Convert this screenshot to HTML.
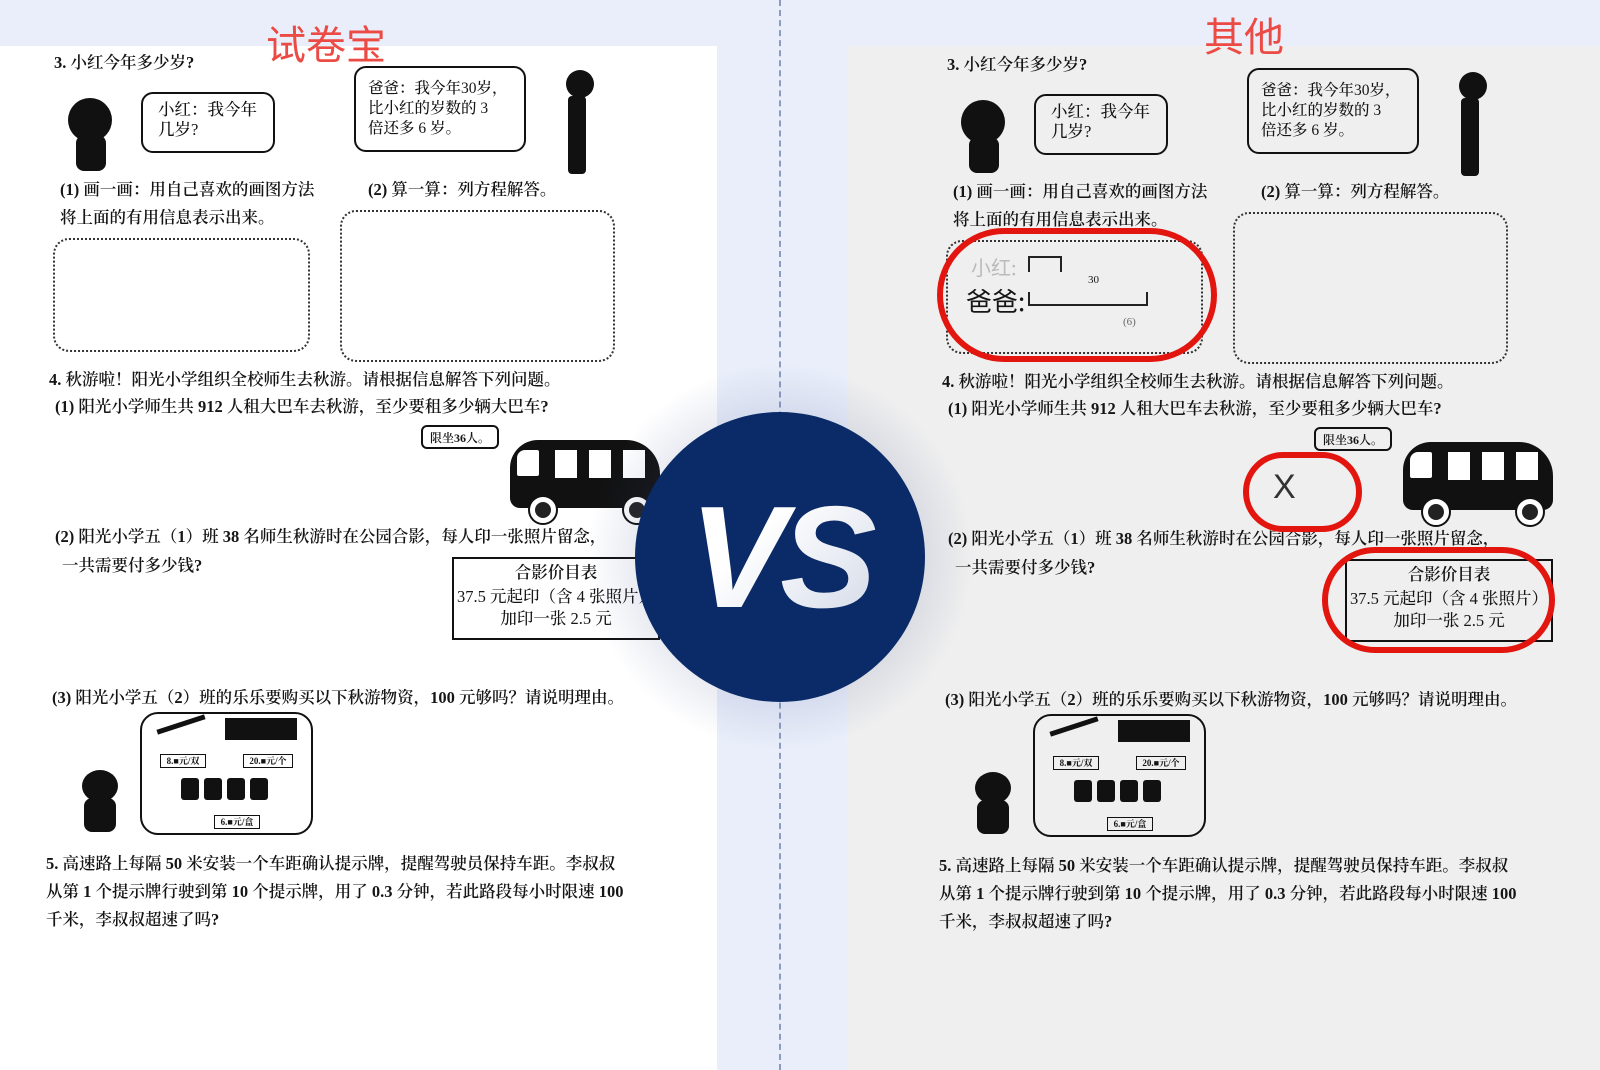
<!DOCTYPE html>
<html><head><meta charset="utf-8">
<style>
*{margin:0;padding:0;box-sizing:border-box}
body{width:1600px;height:1070px;overflow:hidden;background:#e9eefa;position:relative;font-family:"Liberation Serif","Noto Serif CJK SC",serif;color:#151515}
.panel{position:absolute;top:46px;height:1024px}
.blk{position:absolute;left:0;top:0;width:720px;height:1000px}
.t{position:absolute;white-space:nowrap;font-size:16.5px;font-weight:600;line-height:20px}
.bub{position:absolute;border:2px solid #111;border-radius:12px;background:#fff}
.dot{position:absolute;border:2px dotted #333;border-radius:16px}
.sil{position:absolute;background:#111}
.title{position:absolute;color:#ec4a44;font-family:"Liberation Sans","Noto Sans CJK SC",sans-serif;font-size:40px;white-space:nowrap;line-height:42px}
.red{position:absolute;border:6px solid #e3150f;border-radius:9999px}
</style></head><body>
<div class="panel" style="left:0;width:717px;background:#fff"></div>
<div class="panel" style="left:847px;width:753px;background:#efefef"></div>
<div style="position:absolute;left:779px;top:0;height:1070px;border-left:2px dashed #8a9cc0"></div>

<div class="title" style="left:266px;top:25px">试卷宝</div>
<div class="title" style="left:1204px;top:17px">其他</div>

<!-- LEFT block -->
<div class="blk" style="left:0;top:0">
 <div class="t" style="left:54px;top:53px">3. 小红今年多少岁?</div>
 <div class="sil" style="left:68px;top:98px;width:44px;height:44px;border-radius:50%"></div>
 <div class="sil" style="left:76px;top:135px;width:30px;height:36px;border-radius:8px"></div>
 <div class="bub" style="left:141px;top:92px;width:134px;height:61px"></div>
 <div class="t" style="left:158px;top:100px;font-weight:500">小红：我今年<br>几岁?</div>
 <div class="bub" style="left:354px;top:66px;width:172px;height:86px"></div>
 <div class="t" style="left:368px;top:79px;font-weight:500;font-size:15.5px">爸爸：我今年30岁，<br>比小红的岁数的 3<br>倍还多 6 岁。</div>
 <div class="sil" style="left:566px;top:70px;width:28px;height:28px;border-radius:50%"></div>
 <div class="sil" style="left:568px;top:96px;width:18px;height:78px;border-radius:4px"></div>
 <div class="t" style="left:60px;top:180px">(1) 画一画：用自己喜欢的画图方法</div>
 <div class="t" style="left:368px;top:180px">(2) 算一算：列方程解答。</div>
 <div class="t" style="left:60px;top:208px">将上面的有用信息表示出来。</div>
 <div class="dot" style="left:53px;top:238px;width:257px;height:114px"></div>
 <div class="dot" style="left:340px;top:210px;width:275px;height:152px"></div>
 <div class="t" style="left:49px;top:370px">4. 秋游啦！阳光小学组织全校师生去秋游。请根据信息解答下列问题。</div>
 <div class="t" style="left:55px;top:397px">(1) 阳光小学师生共 912 人租大巴车去秋游，至少要租多少辆大巴车?</div>
 <div class="bub" style="left:421px;top:425px;width:78px;height:24px;border-radius:6px"></div>
 <div class="t" style="left:430px;top:428px;font-size:12px">限坐36人。</div>
 <div class="sil" style="left:510px;top:440px;width:150px;height:68px;border-radius:28px 34px 10px 10px"></div>
 <div style="position:absolute;left:517px;top:450px;width:22px;height:26px;background:#fff;border-radius:8px 2px 2px 2px"></div>
 <div style="position:absolute;left:555px;top:450px;width:22px;height:28px;background:#fff"></div>
 <div style="position:absolute;left:589px;top:450px;width:22px;height:28px;background:#fff"></div>
 <div style="position:absolute;left:623px;top:450px;width:22px;height:28px;background:#fff"></div>
 <div style="position:absolute;left:530px;top:497px;width:26px;height:26px;border-radius:50%;background:#222;border:5px solid #fff;box-shadow:0 0 0 2px #111"></div>
 <div style="position:absolute;left:624px;top:497px;width:26px;height:26px;border-radius:50%;background:#222;border:5px solid #fff;box-shadow:0 0 0 2px #111"></div>
 <div class="t" style="left:55px;top:527px">(2) 阳光小学五（1）班 38 名师生秋游时在公园合影，每人印一张照片留念，</div>
 <div class="t" style="left:62px;top:556px">一共需要付多少钱?</div>
 <div style="position:absolute;left:452px;top:557px;width:208px;height:83px;border:2px solid #111;background:#fff"></div>
 <div class="t" style="left:452px;top:563px;width:208px;text-align:center">合影价目表</div>
 <div class="t" style="left:457px;top:587px;font-weight:500">37.5 元起印（含 4 张照片）</div>
 <div class="t" style="left:452px;top:609px;width:208px;text-align:center;font-weight:500">加印一张 2.5 元</div>
 <div class="t" style="left:52px;top:688px">(3) 阳光小学五（2）班的乐乐要购买以下秋游物资，100 元够吗？请说明理由。</div>
 <div class="sil" style="left:82px;top:770px;width:36px;height:32px;border-radius:50%"></div>
 <div class="sil" style="left:84px;top:798px;width:32px;height:34px;border-radius:8px"></div>
 <div class="bub" style="left:140px;top:712px;width:173px;height:123px;border-radius:18px"></div>
 <div style="position:absolute;left:156px;top:722px;width:50px;height:5px;background:#111;transform:rotate(-18deg)"></div>
 <div class="sil" style="left:225px;top:718px;width:72px;height:22px"></div>
 <div style="position:absolute;left:160px;top:754px;width:46px;height:14px;border:1px solid #111;font-size:9px;font-weight:bold;line-height:12px;text-align:center">8.■元/双</div>
 <div style="position:absolute;left:243px;top:754px;width:50px;height:14px;border:1px solid #111;font-size:9px;font-weight:bold;line-height:12px;text-align:center">20.■元/个</div>
 <div class="sil" style="left:181px;top:778px;width:18px;height:22px;border-radius:3px"></div>
 <div class="sil" style="left:204px;top:778px;width:18px;height:22px;border-radius:3px"></div>
 <div class="sil" style="left:227px;top:778px;width:18px;height:22px;border-radius:3px"></div>
 <div class="sil" style="left:250px;top:778px;width:18px;height:22px;border-radius:3px"></div>
 <div style="position:absolute;left:214px;top:815px;width:46px;height:14px;border:1px solid #111;font-size:9px;font-weight:bold;line-height:12px;text-align:center">6.■元/盒</div>
 <div class="t" style="left:46px;top:854px">5. 高速路上每隔 50 米安装一个车距确认提示牌，提醒驾驶员保持车距。李叔叔</div>
 <div class="t" style="left:46px;top:882px">从第 1 个提示牌行驶到第 10 个提示牌，用了 0.3 分钟，若此路段每小时限速 100</div>
 <div class="t" style="left:46px;top:910px">千米，李叔叔超速了吗?</div>
</div>

<!-- RIGHT block -->
<div class="blk" style="left:893px;top:2px">
 <div class="t" style="left:54px;top:53px">3. 小红今年多少岁?</div>
 <div class="sil" style="left:68px;top:98px;width:44px;height:44px;border-radius:50%"></div>
 <div class="sil" style="left:76px;top:135px;width:30px;height:36px;border-radius:8px"></div>
 <div class="bub" style="left:141px;top:92px;width:134px;height:61px;background:#efefef"></div>
 <div class="t" style="left:158px;top:100px;font-weight:500">小红：我今年<br>几岁?</div>
 <div class="bub" style="left:354px;top:66px;width:172px;height:86px;background:#efefef"></div>
 <div class="t" style="left:368px;top:79px;font-weight:500;font-size:15.5px">爸爸：我今年30岁，<br>比小红的岁数的 3<br>倍还多 6 岁。</div>
 <div class="sil" style="left:566px;top:70px;width:28px;height:28px;border-radius:50%"></div>
 <div class="sil" style="left:568px;top:96px;width:18px;height:78px;border-radius:4px"></div>
 <div class="t" style="left:60px;top:180px">(1) 画一画：用自己喜欢的画图方法</div>
 <div class="t" style="left:368px;top:180px">(2) 算一算：列方程解答。</div>
 <div class="t" style="left:60px;top:208px">将上面的有用信息表示出来。</div>
 <div class="dot" style="left:53px;top:238px;width:257px;height:114px"></div>
 <div class="dot" style="left:340px;top:210px;width:275px;height:152px"></div>
 <div style="position:absolute;left:78px;top:250px;font-size:20px;color:#bbb;font-family:'Noto Sans CJK SC',sans-serif">小红:</div>
 <div style="position:absolute;left:135px;top:254px;width:34px;height:16px;border:2px solid #222;border-bottom:none"></div>
 <div style="position:absolute;left:73px;top:280px;font-size:26px;font-family:'Noto Sans CJK SC',sans-serif">爸爸:</div>
 <div style="position:absolute;left:135px;top:290px;width:120px;height:14px;border:2px solid #222;border-top:none"></div>
 <div style="position:absolute;left:195px;top:272px;font-size:11px">30</div>
 <div style="position:absolute;left:230px;top:314px;font-size:11px;color:#666">(6)</div>
 <div class="t" style="left:49px;top:370px">4. 秋游啦！阳光小学组织全校师生去秋游。请根据信息解答下列问题。</div>
 <div class="t" style="left:55px;top:397px">(1) 阳光小学师生共 912 人租大巴车去秋游，至少要租多少辆大巴车?</div>
 <div class="bub" style="left:421px;top:425px;width:78px;height:24px;border-radius:6px;background:#efefef"></div>
 <div class="t" style="left:430px;top:428px;font-size:12px">限坐36人。</div>
 <div style="position:absolute;left:380px;top:466px;font-size:34px;font-family:'Liberation Sans',sans-serif;color:#333">X</div>
 <div class="sil" style="left:510px;top:440px;width:150px;height:68px;border-radius:28px 34px 10px 10px"></div>
 <div style="position:absolute;left:517px;top:450px;width:22px;height:26px;background:#fff;border-radius:8px 2px 2px 2px"></div>
 <div style="position:absolute;left:555px;top:450px;width:22px;height:28px;background:#fff"></div>
 <div style="position:absolute;left:589px;top:450px;width:22px;height:28px;background:#fff"></div>
 <div style="position:absolute;left:623px;top:450px;width:22px;height:28px;background:#fff"></div>
 <div style="position:absolute;left:530px;top:497px;width:26px;height:26px;border-radius:50%;background:#222;border:5px solid #fff;box-shadow:0 0 0 2px #111"></div>
 <div style="position:absolute;left:624px;top:497px;width:26px;height:26px;border-radius:50%;background:#222;border:5px solid #fff;box-shadow:0 0 0 2px #111"></div>
 <div class="t" style="left:55px;top:527px">(2) 阳光小学五（1）班 38 名师生秋游时在公园合影，每人印一张照片留念，</div>
 <div class="t" style="left:62px;top:556px">一共需要付多少钱?</div>
 <div style="position:absolute;left:452px;top:557px;width:208px;height:83px;border:2px solid #111"></div>
 <div class="t" style="left:452px;top:563px;width:208px;text-align:center">合影价目表</div>
 <div class="t" style="left:457px;top:587px;font-weight:500">37.5 元起印（含 4 张照片）</div>
 <div class="t" style="left:452px;top:609px;width:208px;text-align:center;font-weight:500">加印一张 2.5 元</div>
 <div class="t" style="left:52px;top:688px">(3) 阳光小学五（2）班的乐乐要购买以下秋游物资，100 元够吗？请说明理由。</div>
 <div class="sil" style="left:82px;top:770px;width:36px;height:32px;border-radius:50%"></div>
 <div class="sil" style="left:84px;top:798px;width:32px;height:34px;border-radius:8px"></div>
 <div class="bub" style="left:140px;top:712px;width:173px;height:123px;border-radius:18px;background:#efefef"></div>
 <div style="position:absolute;left:156px;top:722px;width:50px;height:5px;background:#111;transform:rotate(-18deg)"></div>
 <div class="sil" style="left:225px;top:718px;width:72px;height:22px"></div>
 <div style="position:absolute;left:160px;top:754px;width:46px;height:14px;border:1px solid #111;font-size:9px;font-weight:bold;line-height:12px;text-align:center">8.■元/双</div>
 <div style="position:absolute;left:243px;top:754px;width:50px;height:14px;border:1px solid #111;font-size:9px;font-weight:bold;line-height:12px;text-align:center">20.■元/个</div>
 <div class="sil" style="left:181px;top:778px;width:18px;height:22px;border-radius:3px"></div>
 <div class="sil" style="left:204px;top:778px;width:18px;height:22px;border-radius:3px"></div>
 <div class="sil" style="left:227px;top:778px;width:18px;height:22px;border-radius:3px"></div>
 <div class="sil" style="left:250px;top:778px;width:18px;height:22px;border-radius:3px"></div>
 <div style="position:absolute;left:214px;top:815px;width:46px;height:14px;border:1px solid #111;font-size:9px;font-weight:bold;line-height:12px;text-align:center">6.■元/盒</div>
 <div class="t" style="left:46px;top:854px">5. 高速路上每隔 50 米安装一个车距确认提示牌，提醒驾驶员保持车距。李叔叔</div>
 <div class="t" style="left:46px;top:882px">从第 1 个提示牌行驶到第 10 个提示牌，用了 0.3 分钟，若此路段每小时限速 100</div>
 <div class="t" style="left:46px;top:910px">千米，李叔叔超速了吗?</div>
</div>

<div class="red" style="left:937px;top:228px;width:280px;height:134px"></div>
<div class="red" style="left:1243px;top:452px;width:119px;height:80px"></div>
<div class="red" style="left:1322px;top:547px;width:233px;height:106px"></div>

<!-- VS -->
<div style="position:absolute;left:585px;top:362px;width:390px;height:390px;border-radius:50%;background:radial-gradient(circle,rgba(60,80,140,.25) 30%,rgba(60,80,140,0) 70%)"></div>
<div style="position:absolute;left:635px;top:412px;width:290px;height:290px;border-radius:50%;background:#0b2a68"></div>
<div style="position:absolute;left:635px;top:472px;width:290px;text-align:center;font-family:'Liberation Sans',sans-serif;font-weight:bold;font-style:italic;font-size:145px;line-height:170px;letter-spacing:-6px;background:linear-gradient(135deg,#fff 40%,#c4cde0);-webkit-background-clip:text;background-clip:text;color:transparent">VS</div>
</body></html>
